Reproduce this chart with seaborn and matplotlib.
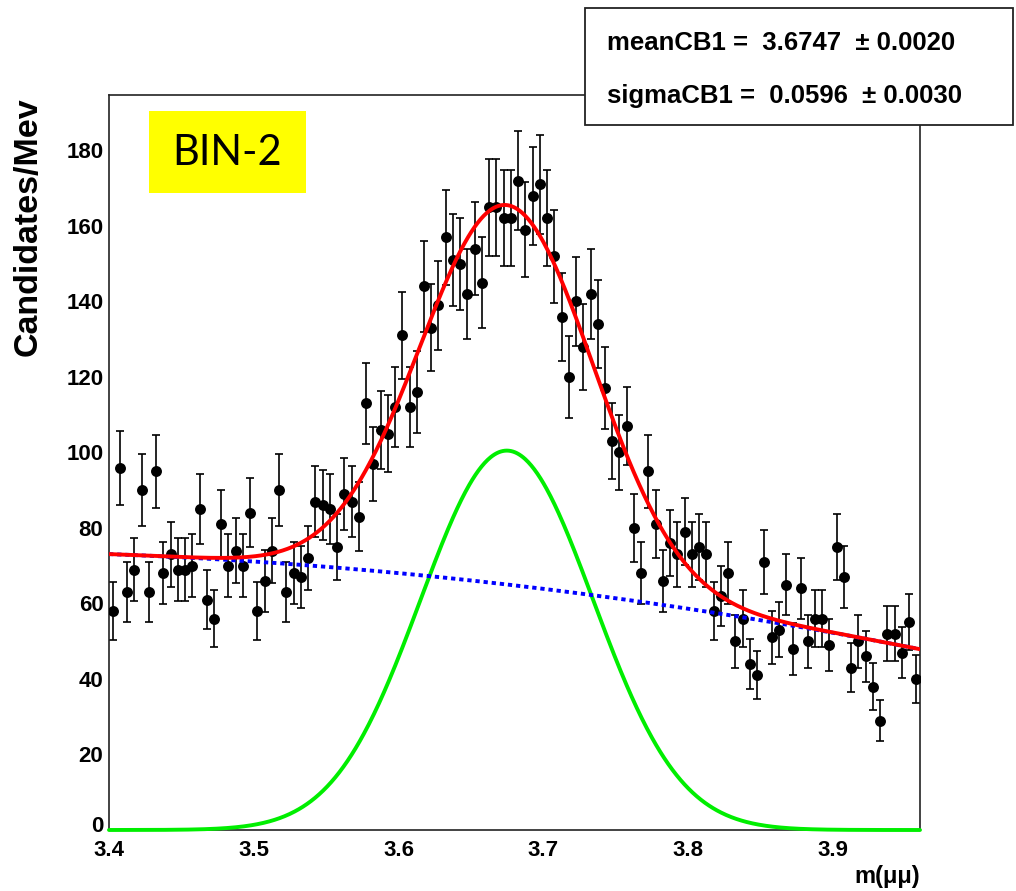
import numpy as np
import pandas as pd
import seaborn as sns
import matplotlib
matplotlib.use("Agg")
import matplotlib.pyplot as plt
import matplotlib.transforms as mtransforms
from matplotlib.ticker import MultipleLocator, FixedLocator
from matplotlib.patches import Rectangle

# ---------------- data ----------------
x_lo, x_hi = 3.40, 3.96
bin_width = 0.005
counts = [58, 96, 63, 69, 90, 63, 95, 68, 73, 69, 69, 70, 85, 61, 56, 81, 70, 74, 70, 84, 58, 66,
          74, 90, 63, 68, 67, 72, 87, 86, 85, 75, 89, 87, 83, 113, 97, 106, 105, 112, 131, 112, 116,
          144, 133, 139, 157, 151, 150, 142, 154, 145, 165, 165, 162, 162, 172, 159, 168, 171, 162,
          152, 136, 120, 140, 128, 142, 134, 117, 103, 100, 107, 80, 68, 95, 81, 66, 76, 73, 79, 73,
          75, 73, 58, 62, 68, 50, 56, 44, 41, 71, 51, 53, 65, 48, 64, 50, 56, 56, 49, 75, 67, 43, 50,
          46, 38, 29, 52, 52, 47, 55, 40]

# fit parameters (signal Gaussian / CB core, quadratic background)
sig_amp = 100.5
mean_cb1 = 3.6747
sigma_cb1 = 0.0596
bkg_ref = 3.68
bkg_c0, bkg_c1, bkg_c2 = 64.8, -45.0, -55.0

x_ticks = [3.4, 3.5, 3.6, 3.7, 3.8, 3.9]
x_tick_labels = ["3.4", "3.5", "3.6", "3.7", "3.8", "3.9"]
y_ticks = [0, 20, 40, 60, 80, 100, 120, 140, 160, 180]
y_tick_labels = [str(v) for v in y_ticks]

stat_lines = ["meanCB1 =  3.6747  \u00b1 0.0020",
              "sigmaCB1 =  0.0596  \u00b1 0.0030"]
y_title = "Candidates/Mev"
x_title = "m(\u03bc\u03bc)"
bin_label = "BIN-2"

# ---------------- derived tables ----------------
n_bins = len(counts)
centers = x_lo + bin_width * (np.arange(n_bins) + 0.5)
df = pd.DataFrame({"m": centers, "n": counts})
df["err"] = np.sqrt(df["n"])

xs = np.linspace(x_lo, x_hi, 800)
sig = sig_amp * np.exp(-0.5 * ((xs - mean_cb1) / sigma_cb1) ** 2)
bkg = bkg_c0 + bkg_c1 * (xs - bkg_ref) + bkg_c2 * (xs - bkg_ref) ** 2
curves = pd.DataFrame({"m": xs, "sig": sig, "bkg": bkg, "tot": sig + bkg})

# ---------------- figure ----------------
sns.set_style("white")
plt.rcParams["font.family"] = ["Liberation Sans", "DejaVu Sans"]

W, H = 1016, 891
fig = plt.figure(figsize=(W / 100, H / 100), dpi=100)
fig.patch.set_facecolor("white")

def fx(px):
    return px / W

def fy(py):
    return 1 - py / H

ax_l, ax_r, ax_t, ax_b = 109, 920, 95, 830
ax = fig.add_axes([fx(ax_l), fy(ax_b), fx(ax_r - ax_l), (ax_b - ax_t) / H])

# data points
ax.errorbar(df["m"], df["n"], yerr=df["err"], fmt="none", ecolor="black",
            elinewidth=1.2, capsize=2.9, capthick=1.2, zorder=2)
sns.scatterplot(data=df, x="m", y="n", ax=ax, color="black", s=62,
                edgecolor="black", linewidth=0, zorder=3, legend=False)

# fit curves
sns.lineplot(data=curves, x="m", y="sig", ax=ax, color="#00ee00", lw=2.8,
             zorder=4, clip_on=False)
sns.lineplot(data=curves, x="m", y="bkg", ax=ax, color="#0000ff", lw=2.8,
             zorder=4, linestyle=(0, (1.1, 1.0)))
sns.lineplot(data=curves, x="m", y="tot", ax=ax, color="#ff0000", lw=2.8, zorder=5)

ax.set_xlim(x_lo, x_hi)
ax.set_ylim(0, 194.7)
ax.set_xlabel("")
ax.set_ylabel("")

ax.xaxis.set_major_locator(FixedLocator(x_ticks))
ax.set_xticklabels(x_tick_labels)
ax.xaxis.set_minor_locator(MultipleLocator(0.02))
ax.yaxis.set_major_locator(FixedLocator(y_ticks))
ax.set_yticklabels(y_tick_labels)
ax.yaxis.set_minor_locator(MultipleLocator(5))

ax.tick_params(which="both", direction="in", top=False, right=False,
               colors="black", width=1.0)
ax.tick_params(which="major", length=17, labelsize=16)
ax.tick_params(axis="y", which="major", pad=4)
ax.tick_params(axis="x", which="major", pad=7.5)
ax.tick_params(which="minor", length=8.5)
for lab in ax.get_xticklabels() + ax.get_yticklabels():
    lab.set_fontweight("bold")

# lift the "0" label a little so it does not collide with "3.4"
zero_lab = ax.get_yticklabels()[0]
zero_lab.set_transform(zero_lab.get_transform() +
                       mtransforms.ScaledTranslation(0, 4 / 72, fig.dpi_scale_trans))

for sp in ax.spines.values():
    sp.set_color("#222222")
    sp.set_linewidth(1.2)

# axis titles
fig.text(fx(28), fy(97), y_title, rotation=90, ha="center", va="top",
         fontsize=24.5, fontweight="bold", color="black")
fig.text(fx(920), fy(877), x_title, ha="right", va="center",
         fontsize=17, fontweight="bold", color="black")

# BIN-2 label box
fig.add_artist(Rectangle((fx(149), fy(193)), fx(306 - 149), (193 - 111) / H,
                         transform=fig.transFigure, facecolor="#ffff00",
                         edgecolor="none", zorder=6))
fig.text(fx(227), fy(153), bin_label, ha="center", va="center",
         fontsize=30, family=["Lato", "DejaVu Sans"], color="black", zorder=7)

# stats box
fig.add_artist(Rectangle((fx(585), fy(125)), fx(1013 - 585), (125 - 8) / H,
                         transform=fig.transFigure, facecolor="white",
                         edgecolor="#222222", linewidth=1.3, zorder=8))
row_y = [43, 96]
for k in range(2):
    fig.text(fx(607), fy(row_y[k]), stat_lines[k], ha="left", va="center",
             fontsize=18.5, fontweight="bold", color="black", zorder=9)

fig.savefig("out.png", dpi=100)
